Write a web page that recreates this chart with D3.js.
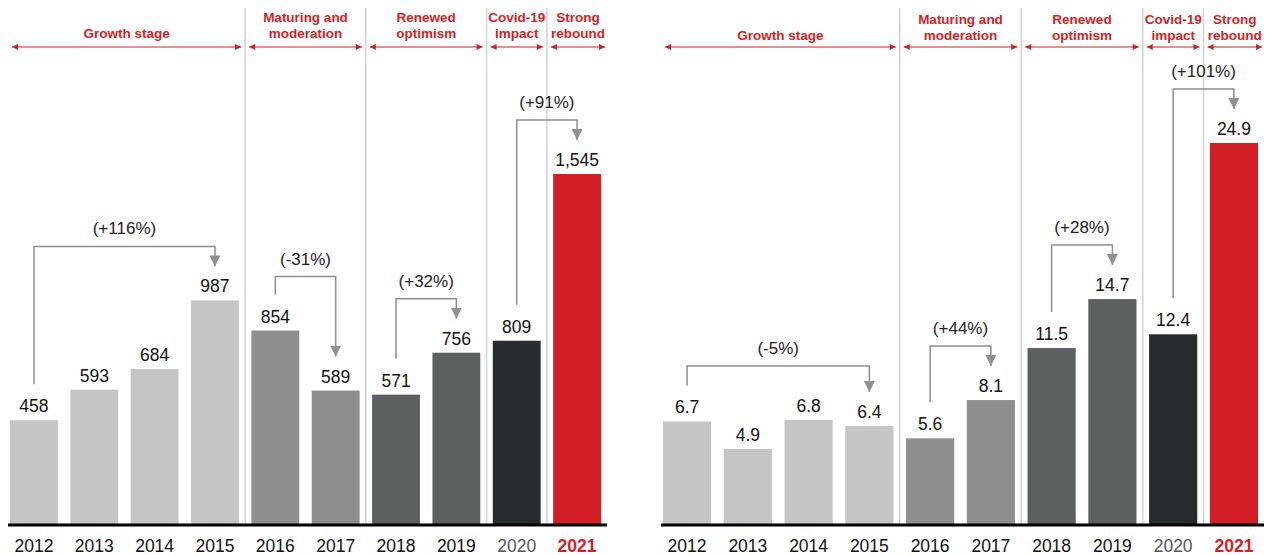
<!DOCTYPE html>
<html>
<head>
<meta charset="utf-8">
<script src="https://cdn.jsdelivr.net/npm/d3@7"></script>
<style>
	body { margin: 0; background: #fff; }
	svg { display: block; font-family: 'Liberation Sans', Arial, sans-serif; }
</style>
</head>
<body>
<svg id="chart" width="1270" height="555"></svg>
<script>
let years = ['2012', '2013', '2014', '2015', '2016', '2017', '2018', '2019', '2020', '2021']
let valuesLeft = [458, 593, 684, 987, 854, 589, 571, 756, 809, 1545]
let valuesRight = [6.7, 4.9, 6.8, 6.4, 5.6, 8.1, 11.5, 14.7, 12.4, 24.9]

let stageLabels = [['Growth stage'], ['Maturing and', 'moderation'], ['Renewed', 'optimism'], ['Covid-19', 'impact'], ['Strong', 'rebound']]
let stageStarts = [0, 4, 6, 8, 9]
let stageColors = ['#c4c5c4', '#8e8f90', '#5d6061', '#292c2f', '#d21f26']

let changesLeft = [
	{ from: 0, to: 3, label: '(+116%)' },
	{ from: 4, to: 5, label: '(-31%)' },
	{ from: 6, to: 7, label: '(+32%)' },
	{ from: 8, to: 9, label: '(+91%)' },
]
let changesRight = [
	{ from: 0, to: 3, label: '(-5%)' },
	{ from: 4, to: 5, label: '(+44%)' },
	{ from: 6, to: 7, label: '(+28%)' },
	{ from: 8, to: 9, label: '(+101%)' },
]

const RED = '#d21f26'
const GREY_ARROW = '#8e8f90'
const BASE = 524

let svg = d3.select('#chart')
let defs = svg.append('defs')

function marker(id, color, w, h, reverse) {
	defs.append('marker')
		.attr('id', id)
		.attr('viewBox', '0 0 10 10')
		.attr('refX', 10).attr('refY', 5)
		.attr('markerWidth', w).attr('markerHeight', h)
		.attr('markerUnits', 'userSpaceOnUse')
		.attr('orient', reverse ? 'auto-start-reverse' : 'auto')
		.append('path')
		.attr('d', 'M0,0 L10,5 L0,10 Z')
		.attr('fill', color)
}
marker('redArrow', RED, 7, 6, true)
marker('greyArrow', GREY_ARROW, 11, 11, false)

function stageOf(i) {
	let s = 0
	stageStarts.forEach((st, k) => { if (i >= st) s = k })
	return s
}

function drawPanel(values, fmt, changes, x0, x1, yTop, headDy) {
	let g = svg.append('g')

	let x = d3.scaleBand()
		.domain(years)
		.range([x0, x1])
		.paddingInner(0.207)
		.paddingOuter(0)

	let y = d3.scaleLinear()
		.domain([0, d3.max(values)])
		.range([BASE, yTop])

	let data = years.map((yr, i) => ({ year: yr, value: values[i], i: i, stage: stageOf(i) }))

	// separators between stages
	let seps = stageStarts.slice(1).map(i => (x(years[i - 1]) + x.bandwidth() + x(years[i])) / 2)
	g.selectAll('line.sep')
		.data(seps)
		.enter()
		.append('line')
		.attr('class', 'sep')
		.attr('x1', d => d).attr('x2', d => d)
		.attr('y1', 8).attr('y2', BASE)
		.attr('stroke', '#d3d3d3')
		.attr('stroke-width', 1.5)

	// stage headers
	let bounds = [x0 - 1].concat(seps).concat([x1 + 4])
	stageLabels.forEach((lines, k) => {
		let a = k === 0 ? bounds[0] + 3 : bounds[k] + 4
		let b = k === stageLabels.length - 1 ? bounds[k + 1] : bounds[k + 1] - 4
		g.append('line')
			.attr('x1', a).attr('x2', b)
			.attr('y1', 47).attr('y2', 47)
			.attr('stroke', RED)
			.attr('stroke-width', 1)
			.attr('marker-start', 'url(#redArrow)')
			.attr('marker-end', 'url(#redArrow)')
		let t = g.append('text')
			.attr('x', (a + b) / 2)
			.attr('text-anchor', 'middle')
			.attr('fill', RED)
			.attr('font-size', 13.5)
			.attr('font-weight', 'bold')
		lines.forEach((ln, j) => {
			t.append('tspan')
				.attr('x', (a + b) / 2)
				.attr('y', 38 + headDy - (lines.length - 1 - j) * 16)
				.text(ln)
		})
	})

	// bars
	g.selectAll('rect.bar')
		.data(data)
		.enter()
		.append('rect')
		.attr('class', 'bar')
		.attr('x', d => x(d.year))
		.attr('y', d => y(d.value))
		.attr('width', x.bandwidth())
		.attr('height', d => BASE - y(d.value))
		.attr('fill', d => stageColors[d.stage])

	// value labels
	g.selectAll('text.val')
		.data(data)
		.enter()
		.append('text')
		.attr('class', 'val')
		.attr('x', d => x(d.year) + x.bandwidth() / 2)
		.attr('y', d => y(d.value) - 8)
		.attr('text-anchor', 'middle')
		.attr('font-size', 17.5)
		.attr('fill', '#111')
		.text(d => fmt(d.value))

	// baseline
	g.append('line')
		.attr('x1', x0 - 2).attr('x2', x1 + 6)
		.attr('y1', BASE + 1).attr('y2', BASE + 1)
		.attr('stroke', '#000')
		.attr('stroke-width', 3)

	// year labels
	g.selectAll('text.year')
		.data(data)
		.enter()
		.append('text')
		.attr('class', 'year')
		.attr('x', d => x(d.year) + x.bandwidth() / 2)
		.attr('y', 552)
		.attr('text-anchor', 'middle')
		.attr('font-size', 17.5)
		.attr('font-weight', d => d.i === 9 ? 'bold' : 'normal')
		.attr('fill', d => d.i === 9 ? RED : (d.i === 8 ? '#555' : '#111'))
		.text(d => d.year)

	// change brackets
	changes.forEach(c => {
		let xa = x(years[c.from]) + x.bandwidth() / 2
		let xb = x(years[c.to]) + x.bandwidth() / 2
		let topMax = d3.min(d3.range(c.from, c.to + 1), i => y(values[i]))
		let level = topMax - 54
		let ya = y(values[c.from]) - 36
		let yb = y(values[c.to]) - 34
		g.append('path')
			.attr('d', `M${xa},${ya} V${level} H${xb} V${yb}`)
			.attr('fill', 'none')
			.attr('stroke', GREY_ARROW)
			.attr('stroke-width', 1.5)
			.attr('marker-end', 'url(#greyArrow)')
		g.append('text')
			.attr('x', (xa + xb) / 2)
			.attr('y', level - 12)
			.attr('text-anchor', 'middle')
			.attr('font-size', 17)
			.attr('fill', '#222')
			.text(c.label)
	})
}

drawPanel(valuesLeft, d3.format(','), changesLeft, 10, 601, 174, 0)
drawPanel(valuesRight, d3.format('.1f'), changesRight, 663, 1258, 143, 1.5)
</script>
</body>
</html>
